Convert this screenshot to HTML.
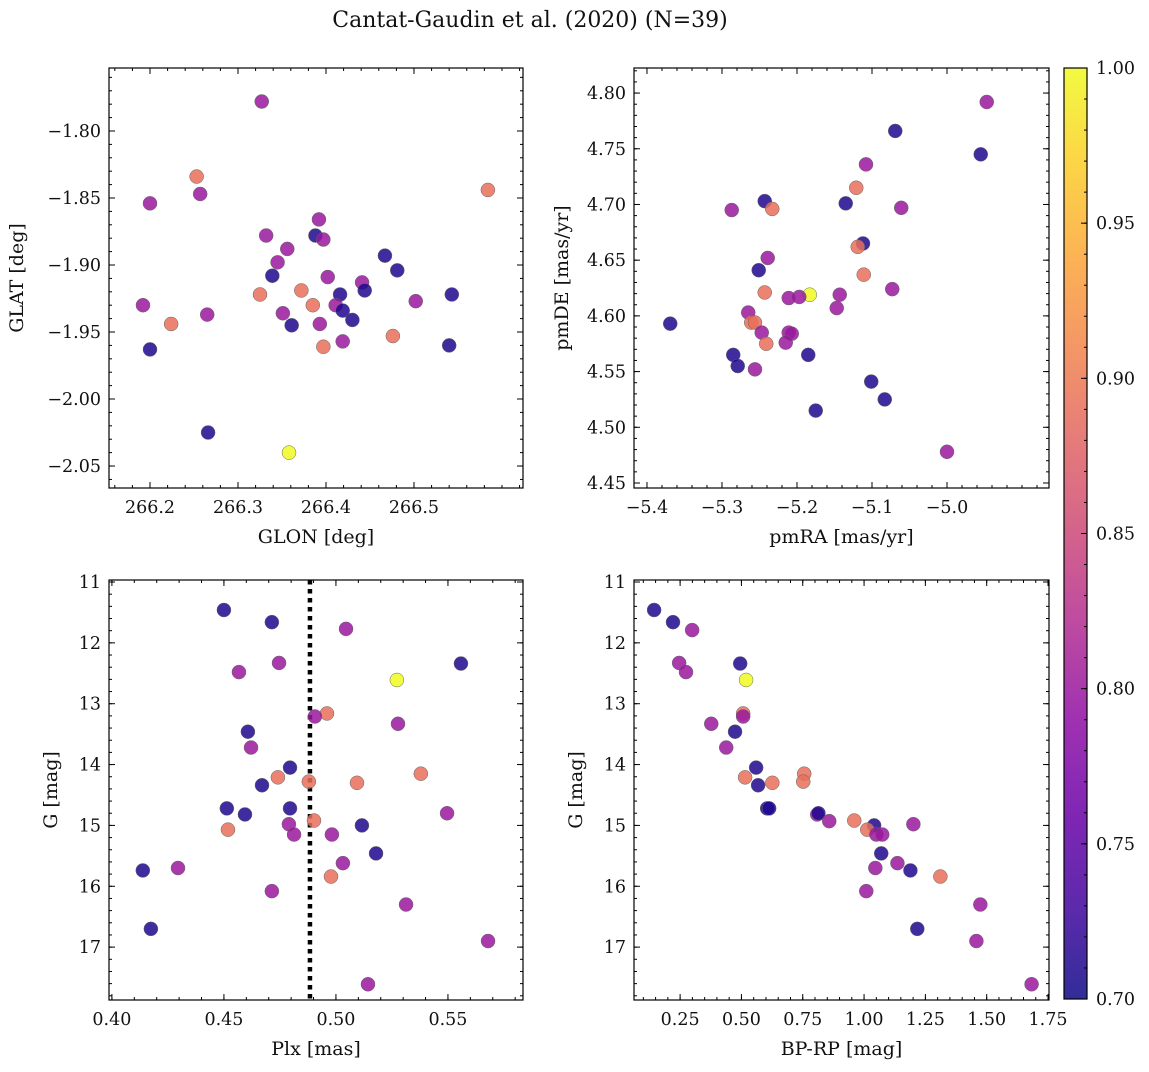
<!DOCTYPE html>
<html><head><meta charset="utf-8"><style>
body{margin:0;background:#fff}
svg text{font-family:"DejaVu Serif","Liberation Serif",serif;fill:#111}
</style></head><body>
<svg id="fig" width="1149" height="1067" xmlns="http://www.w3.org/2000/svg">
<defs><linearGradient id="cb" x1="0" y1="1" x2="0" y2="0">
<stop offset="0" stop-color="#0d0887"/><stop offset="0.1" stop-color="#41049d"/><stop offset="0.2" stop-color="#6a00a8"/><stop offset="0.3" stop-color="#8f0da4"/><stop offset="0.4" stop-color="#b12a90"/><stop offset="0.5" stop-color="#cc4778"/><stop offset="0.6" stop-color="#e16462"/><stop offset="0.7" stop-color="#f2844b"/><stop offset="0.8" stop-color="#fca636"/><stop offset="0.9" stop-color="#fcce25"/><stop offset="1" stop-color="#f0f921"/>
</linearGradient></defs>
<text x="530" y="27" font-size="22" text-anchor="middle">Cantat-Gaudin et al. (2020) (N=39)</text>
</svg>
<script>
const B=0.71,P=0.80,S=0.89,Y=1.0;
// Panel 1: GLON / GLAT
const glon=[266.327,266.253,266.584,266.200,266.257,266.392,266.332,266.388,266.397,266.356,266.345,266.467,266.402,266.339,266.481,266.441,266.372,266.416,266.444,266.325,266.543,266.502,266.192,266.385,266.411,266.419,266.351,266.430,266.265,266.224,266.361,266.393,266.476,266.200,266.397,266.419,266.540,266.266,266.358];
const glat=[-1.778,-1.834,-1.844,-1.854,-1.847,-1.866,-1.878,-1.878,-1.881,-1.888,-1.898,-1.893,-1.909,-1.908,-1.904,-1.913,-1.919,-1.922,-1.919,-1.922,-1.922,-1.927,-1.930,-1.930,-1.930,-1.934,-1.936,-1.941,-1.937,-1.944,-1.945,-1.944,-1.953,-1.963,-1.961,-1.957,-1.960,-2.025,-2.040];
const prob1=[P,S,S,P,P,P,P,B,P,P,P,B,P,B,B,P,S,B,B,S,B,P,P,S,P,B,P,B,P,S,B,P,S,B,S,P,B,B,Y];
// Panel 2: pmRA / pmDE
const pmra=[-4.947,-5.069,-4.955,-5.108,-5.121,-5.243,-5.135,-5.287,-5.233,-5.061,-5.112,-5.119,-5.239,-5.251,-5.111,-5.243,-5.183,-5.197,-5.211,-5.143,-5.073,-5.369,-5.265,-5.261,-5.256,-5.147,-5.247,-5.211,-5.207,-5.241,-5.215,-5.285,-5.185,-5.279,-5.256,-5.101,-5.083,-5.175,-5.000];
const pmde=[4.792,4.766,4.745,4.736,4.715,4.703,4.701,4.695,4.696,4.697,4.665,4.662,4.652,4.641,4.637,4.621,4.619,4.617,4.616,4.619,4.624,4.593,4.603,4.594,4.594,4.607,4.585,4.585,4.584,4.575,4.576,4.565,4.565,4.555,4.552,4.541,4.525,4.515,4.478];
const prob2=[P,B,B,P,S,B,B,P,S,P,B,S,P,B,S,S,Y,P,P,P,P,B,P,S,S,P,P,P,P,S,P,B,B,B,P,B,B,B,P];
// Panel 3: Plx / G
const plx=[0.450,0.4714,0.5045,0.4746,0.5558,0.4567,0.5272,0.496,0.4906,0.5277,0.4607,0.4621,0.4795,0.5379,0.4741,0.4670,0.4879,0.5094,0.4513,0.4795,0.4594,0.5496,0.4902,0.4790,0.5116,0.4518,0.4813,0.4982,0.5179,0.5031,0.4295,0.4138,0.4978,0.4714,0.5313,0.4174,0.5679,0.5143];
const gmag3=[11.46,11.66,11.77,12.33,12.34,12.48,12.61,13.16,13.21,13.33,13.46,13.72,14.05,14.15,14.21,14.34,14.28,14.30,14.72,14.72,14.82,14.80,14.92,14.98,15.00,15.07,15.15,15.15,15.46,15.62,15.70,15.74,15.84,16.08,16.30,16.70,16.90,17.61];
const prob3=[B,B,P,P,B,P,Y,S,P,P,B,P,B,S,S,B,S,S,B,B,B,P,S,P,B,S,P,P,B,P,P,B,S,P,P,B,P,P];
const plxLine=0.4884;
// Panel 4: BP-RP / G
const bprp=[0.144,0.221,0.299,0.246,0.274,0.495,0.519,0.507,0.507,0.377,0.474,0.438,0.560,0.756,0.515,0.568,0.626,0.752,0.605,0.613,0.809,0.814,0.960,0.858,1.041,1.201,1.013,1.050,1.074,1.070,1.136,1.046,1.189,1.311,1.009,1.474,1.217,1.458,1.683];
const gmag4=[11.46,11.66,11.79,12.33,12.48,12.34,12.61,13.16,13.21,13.33,13.46,13.72,14.05,14.15,14.21,14.34,14.30,14.28,14.72,14.72,14.82,14.80,14.92,14.93,15.00,14.98,15.07,15.15,15.15,15.46,15.62,15.70,15.74,15.84,16.08,16.30,16.70,16.90,17.61];
const prob4=[B,B,P,P,P,B,Y,S,P,P,B,P,B,S,S,B,S,S,B,B,P,B,S,P,B,P,S,P,P,B,P,P,B,S,P,P,B,P,P];
// Colorbar
const cbTicks=[0.70,0.75,0.80,0.85,0.90,0.95,1.00];

const NS="http://www.w3.org/2000/svg",svg=document.getElementById('fig');
function mk(t,a,p){const e=document.createElementNS(NS,t);for(const k in a)e.setAttribute(k,a[k]);(p||svg).appendChild(e);return e;}
const stops=[[0,13,8,135],[.1,65,4,157],[.2,106,0,168],[.3,143,13,164],[.4,177,42,144],[.5,204,71,120],[.6,225,100,98],[.7,242,132,75],[.8,252,166,54],[.9,252,206,37],[1,240,249,33]];
function plasma(v){let t=Math.max(0,Math.min(1,(v-0.7)/0.3));for(let i=1;i<stops.length;i++){if(t<=stops[i][0]){const a=stops[i-1],b=stops[i],f=(t-a[0])/(b[0]-a[0]);return `rgb(${[1,2,3].map(j=>Math.round(a[j]+(b[j]-a[j])*f)).join(',')})`;}}return 'rgb(240,249,33)';}
function fmt(v,d){return (v<0?'\u2212':'')+Math.abs(v).toFixed(d);}
function panel(o){
  const g=mk('g',{});
  
  
  const sx=v=>o.x0+(v-o.xmin)/(o.xmax-o.xmin)*(o.x1-o.x0);
  const sy=o.inv?v=>o.y0+(v-o.ymin)/(o.ymax-o.ymin)*(o.y1-o.y0):v=>o.y1-(v-o.ymin)/(o.ymax-o.ymin)*(o.y1-o.y0);
  mk('rect',{x:o.x0,y:o.y0,width:o.x1-o.x0,height:o.y1-o.y0,fill:'#fff'},g);
  if(o.vline!==undefined){const l=mk('line',{x1:sx(o.vline),x2:sx(o.vline),y1:o.y0,y2:o.y1,stroke:'#000','stroke-width':4.5,'stroke-dasharray':'4.5 4.5'},g);}
  for(let i=0;i<o.xs.length;i++){
    const c=mk('circle',{cx:sx(o.xs[i]),cy:sy(o.ys[i]),r:7,fill:plasma(o.cs[i]),'fill-opacity':0.85,stroke:'#666','stroke-width':0.5},g);
    
    
  }
  const tk=(x1,y1,x2,y2)=>mk('line',{x1,y1,x2,y2,stroke:'#000','stroke-width':1},g);
  for(let v=o.xmin0;v<=o.xmax+1e-9;v+=o.xminor){if(v<o.xmin-1e-9)continue;const x=sx(v);tk(x,o.y1,x,o.y1-3);tk(x,o.y0,x,o.y0+3);}
  for(let v=o.ymin0;v<=o.ymax+1e-9;v+=o.yminor){if(v<o.ymin-1e-9)continue;const y=sy(v);tk(o.x0,y,o.x0+3,y);tk(o.x1,y,o.x1-3,y);}
  o.xt.forEach(v=>{const x=sx(v);tk(x,o.y1,x,o.y1-6);tk(x,o.y0,x,o.y0+6);const t=mk('text',{x,y:o.y1+25,'font-size':17.5,'text-anchor':'middle'},g);t.textContent=fmt(v,o.xd);});
  o.yt.forEach(v=>{const y=sy(v);tk(o.x0,y,o.x0+6,y);tk(o.x1,y,o.x1-6,y);const t=mk('text',{x:o.x0-8,y:y+6,'font-size':17.5,'text-anchor':'end'},g);t.textContent=fmt(v,o.yd);});
  mk('rect',{x:o.x0,y:o.y0,width:o.x1-o.x0,height:o.y1-o.y0,fill:'none',stroke:'#000','stroke-width':1.2},g);
  const xl=mk('text',{x:(o.x0+o.x1)/2,y:o.y1+55,'font-size':19,'text-anchor':'middle'},g);xl.textContent=o.xl;
  
  
  const yx=o.ylx,yy=(o.y0+o.y1)/2;
  const yl=mk('text',{x:yx,y:yy,'font-size':19,'text-anchor':'middle',transform:`rotate(-90 ${yx} ${yy})`},g);yl.textContent=o.yl;
  
  
}
panel({name:'glon-glat-panel',x0:109,x1:523,y0:68,y1:488,xmin:266.1534,xmax:266.6239,ymin:-2.0664,ymax:-1.753,xs:glon,ys:glat,cs:prob1,
 xt:[266.2,266.3,266.4,266.5],xd:1,xmin0:266.16,xminor:0.02,yt:[-2.05,-2.00,-1.95,-1.90,-1.85,-1.80],yd:2,ymin0:-2.06,yminor:0.01,xl:'GLON [deg]',yl:'GLAT [deg]',ylx:23});
panel({name:'proper-motion-panel',x0:634,x1:1049,y0:68,y1:488,xmin:-5.4173,xmax:-4.864,ymin:4.4455,ymax:4.8225,xs:pmra,ys:pmde,cs:prob2,
 xt:[-5.4,-5.3,-5.2,-5.1,-5.0],xd:1,xmin0:-5.40,xminor:0.02,yt:[4.45,4.50,4.55,4.60,4.65,4.70,4.75,4.80],yd:2,ymin0:4.45,yminor:0.01,xl:'pmRA [mas/yr]',yl:'pmDE [mas/yr]',ylx:568});
panel({name:'parallax-magnitude-panel',x0:109,x1:523,y0:580,y1:1000,inv:true,xmin:0.3987,xmax:0.5835,ymin:10.967,ymax:17.869,xs:plx,ys:gmag3,cs:prob3,vline:plxLine,
 xt:[0.40,0.45,0.50,0.55],xd:2,xmin0:0.40,xminor:0.01,yt:[11,12,13,14,15,16,17],yd:0,ymin0:11,yminor:0.2,xl:'Plx [mas]',yl:'G [mag]',ylx:57});
panel({name:'color-magnitude-panel',x0:634,x1:1049,y0:580,y1:1000,inv:true,xmin:0.062,xmax:1.754,ymin:10.967,ymax:17.869,xs:bprp,ys:gmag4,cs:prob4,
 xt:[0.25,0.50,0.75,1.00,1.25,1.50,1.75],xd:2,xmin0:0.10,xminor:0.05,yt:[11,12,13,14,15,16,17],yd:0,ymin0:11,yminor:0.2,xl:'BP-RP [mag]',yl:'G [mag]',ylx:582});
const cg=mk('g',{});


const cy0=68,cy1=999,cx0=1064,cx1=1087,cs=v=>cy1-(v-0.7)/0.3*(cy1-cy0);
mk('rect',{x:cx0,y:cy0,width:cx1-cx0,height:cy1-cy0,fill:'url(#cb)','fill-opacity':0.85,stroke:'#000','stroke-width':1.2},cg);
for(let v=0.70;v<=1.0001;v+=0.01){mk('line',{x1:cx1,x2:cx1-3,y1:cs(v),y2:cs(v),stroke:'#000'},cg);}
cbTicks.forEach(v=>{mk('line',{x1:cx1,x2:cx1-6,y1:cs(v),y2:cs(v),stroke:'#000'},cg);const t=mk('text',{x:1096,y:cs(v)+6,'font-size':17.5},cg);t.textContent=v.toFixed(2);});
</script>
</body></html>
